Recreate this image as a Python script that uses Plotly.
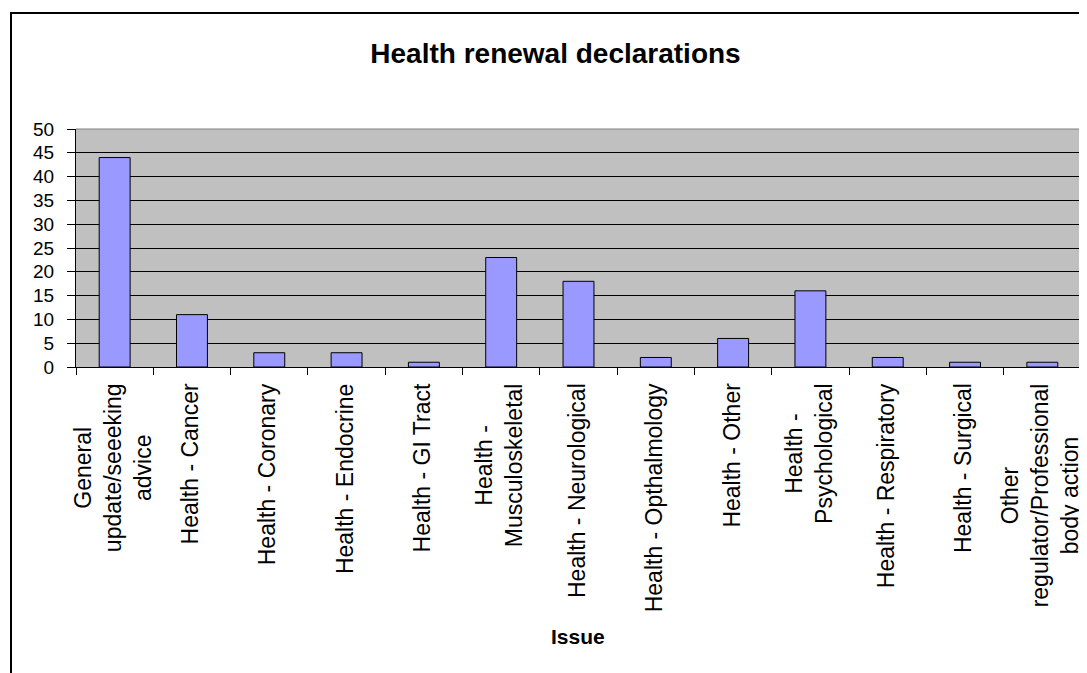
import plotly.graph_objects as go

categories = [
    "General<br>update/seeeking<br>advice",
    "Health - Cancer",
    "Health - Coronary",
    "Health - Endocrine",
    "Health - GI Tract",
    "Health -<br>Musculoskeletal",
    "Health - Neurological",
    "Health - Opthalmology",
    "Health - Other",
    "Health -<br>Psychological",
    "Health - Respiratory",
    "Health - Surgical",
    "Other<br>regulator/Professional<br>body action",
]
values = [44, 11, 3, 3, 1, 23, 18, 2, 6, 16, 2, 1, 1]
y_ticks = [0, 5, 10, 15, 20, 25, 30, 35, 40, 45, 50]

title_text = "Health renewal declarations"
x_title = "Issue"

FONT = "Liberation Sans, Arial, sans-serif"

# page body has an 8px margin, so the figure is placed at (8, 8)
W, H = 1079, 665
pl, pr = 68, 1073
plot_top, plot_bottom = 121, 359
pw = pr - pl
ph = plot_bottom - plot_top

fig = go.Figure()
fig.add_trace(go.Bar(
    x=categories,
    y=values,
    marker=dict(color="#9999FF", line=dict(color="black", width=1)),
    showlegend=False,
    hoverinfo="x+y",
))

annotations = []
for c in categories:
    annotations.append(dict(
        x=c, xref="x", y=0, yref="paper",
        text=c, textangle=-90, showarrow=False,
        xanchor="center", yanchor="top", yshift=-14, xshift=-2,
        align="center",
        font=dict(family=FONT, size=23, color="black"),
    ))
annotations.append(dict(
    x=0.5, xref="paper", xshift=-1,
    y=(plot_bottom - (636 - 8)) / ph, yref="paper", yanchor="middle",
    text="<b>" + x_title + "</b>", showarrow=False,
    font=dict(family=FONT, size=21, color="black"),
))

fig.update_layout(
    width=W, height=H,
    margin=dict(l=pl, r=W - pr, t=plot_top, b=H - plot_bottom, autoexpand=False),
    paper_bgcolor="white",
    plot_bgcolor="#C0C0C0",
    bargap=0.6,
    title=dict(
        text="<b>" + title_text + "</b>",
        x=(555.5 - 8) / W, xref="container", xanchor="center",
        y=1 - (53 - 8) / H, yref="container", yanchor="middle",
        font=dict(family=FONT, size=28, color="black"),
    ),
    xaxis=dict(
        type="category",
        range=[-0.5, len(categories) - 0.5],
        showticklabels=False,
        ticks="outside", ticklen=7, tickcolor="black", tickwidth=1,
        tickson="boundaries",
        showline=True, linecolor="black", linewidth=1,
        showgrid=False, zeroline=False,
        fixedrange=True,
    ),
    yaxis=dict(
        range=[0, 50],
        tickvals=y_ticks,
        ticks="outside", ticklen=8, tickcolor="black", tickwidth=1,
        ticklabelstandoff=9,
        tickfont=dict(family=FONT, size=19, color="black"),
        showline=True, linecolor="black", linewidth=1,
        showgrid=True, gridcolor="black", gridwidth=1,
        zeroline=False,
        fixedrange=True,
    ),
    font=dict(family=FONT, color="black"),
    annotations=annotations,
)

shapes = [
    # gray plot-area border on top and right
    dict(type="path", xref="paper", yref="paper",
         path="M 0,1 L 1,1 L 1,0", line=dict(color="#808080", width=1),
         layer="above"),
    # outer chart-area border
    dict(type="rect", xref="paper", yref="paper",
         x0=(3 - pl) / pw, x1=(1110 - pl) / pw,
         y0=(plot_bottom - 700) / ph, y1=(plot_bottom - 5) / ph,
         line=dict(color="black", width=2), fillcolor="rgba(0,0,0,0)",
         layer="below"),
]
fig.update_layout(shapes=shapes)

fig.write_html("out.html")
